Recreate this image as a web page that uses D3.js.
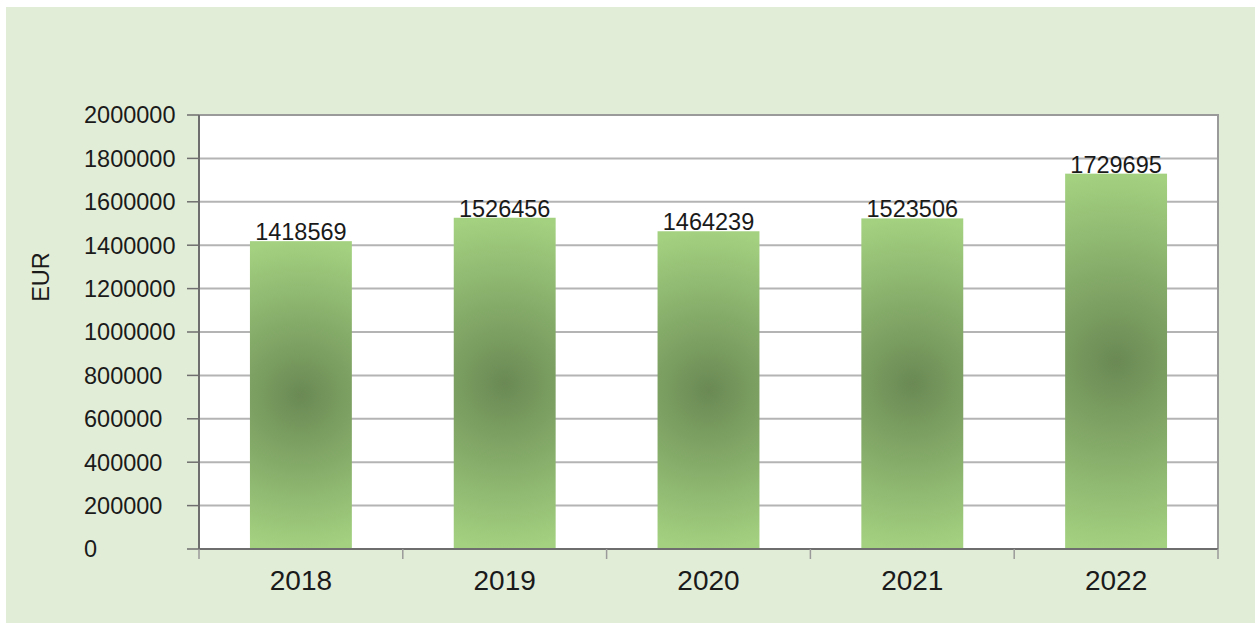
<!DOCTYPE html>
<html>
<head>
<meta charset="utf-8">
<script src="https://cdn.jsdelivr.net/npm/d3@7"></script>
<style>
  html, body { margin: 0; padding: 0; background: #ffffff; }
  svg text { font-family: "Liberation Sans", Arial, sans-serif; fill: #1a1a1a; }
</style>
</head>
<body>
<div class="chart"></div>
<script>
const years = ["2018", "2019", "2020", "2021", "2022"]
const amounts = [1418569, 1526456, 1464239, 1523506, 1729695]
const yTicks = [0, 200000, 400000, 600000, 800000, 1000000, 1200000, 1400000, 1600000, 1800000, 2000000]
const yLabel = "EUR"

const width = 1255
const height = 623
const margin = { top: 115, right: 37, bottom: 74, left: 199 }
const graphWidth = width - margin.left - margin.right
const graphHeight = height - margin.top - margin.bottom

const svg = d3.select(".chart").append("svg")
  .attr("width", width)
  .attr("height", height)

// light green panel, leaves a thin white strip top/left
svg.append("rect")
  .attr("x", 6).attr("y", 7)
  .attr("width", width - 6).attr("height", height - 7)
  .attr("fill", "#e2edd8")

const defs = svg.append("defs")

const graph = svg.append("g").attr("transform", `translate(${margin.left}, ${margin.top})`)

const xScale = d3.scaleBand().domain(years).range([0, graphWidth]).paddingInner(0.5).paddingOuter(0.25)
const yScale = d3.scaleLinear().domain([0, 2000000]).range([graphHeight, 0])

graph.append("rect")
  .attr("width", graphWidth).attr("height", graphHeight)
  .attr("fill", "#ffffff")

// gridlines
graph.selectAll(".grid")
  .data(yTicks.slice(1, -1))
  .enter().append("line")
  .attr("class", "grid")
  .attr("x1", 0).attr("x2", graphWidth)
  .attr("y1", d => yScale(d)).attr("y2", d => yScale(d))
  .attr("stroke", "#b4b4b4")
  .attr("stroke-width", 2)

// one radial gradient per bar, circle sized to half the bar height
amounts.forEach((v, i) => {
  const x = xScale(years[i]) + xScale.bandwidth() / 2
  const top = yScale(v)
  const cy = (top + graphHeight) / 2
  const g = defs.append("radialGradient")
    .attr("id", `barGrad${i}`)
    .attr("gradientUnits", "userSpaceOnUse")
    .attr("cx", x).attr("cy", cy).attr("r", (graphHeight - top) / 2)
  g.append("stop").attr("offset", "0%").attr("stop-color", "#6a8954")
  g.append("stop").attr("offset", "100%").attr("stop-color", "#a3d180")
})

graph.selectAll(".bar")
  .data(amounts)
  .enter().append("rect")
  .attr("class", "bar")
  .attr("x", (d, i) => xScale(years[i]))
  .attr("y", d => yScale(d))
  .attr("width", xScale.bandwidth())
  .attr("height", d => graphHeight - yScale(d))
  .attr("fill", (d, i) => `url(#barGrad${i})`)

// plot border: top/right lighter, left/bottom axis darker
graph.append("path")
  .attr("d", `M0,0H${graphWidth}V${graphHeight}`)
  .attr("fill", "none").attr("stroke", "#9a9a9a").attr("stroke-width", 2)
graph.append("path")
  .attr("d", `M0,0V${graphHeight}H${graphWidth}`)
  .attr("fill", "none").attr("stroke", "#6e6e6e").attr("stroke-width", 2)

// y ticks and labels (labels are left aligned in the original)
graph.selectAll(".ytick")
  .data(yTicks)
  .enter().append("line")
  .attr("x1", -12).attr("x2", 0)
  .attr("y1", d => yScale(d)).attr("y2", d => yScale(d))
  .attr("stroke", "#6e6e6e").attr("stroke-width", 1.5)

svg.selectAll(".ylab")
  .data(yTicks)
  .enter().append("text")
  .attr("x", 84)
  .attr("y", d => margin.top + yScale(d))
  .attr("dy", "0.36em")
  .attr("font-size", 23.5)
  .text(d => d)

// x ticks on category boundaries
const step = xScale.step()
graph.selectAll(".xtick")
  .data(d3.range(years.length + 1))
  .enter().append("line")
  .attr("x1", i => i * step).attr("x2", i => i * step)
  .attr("y1", graphHeight).attr("y2", graphHeight + 10)
  .attr("stroke", "#9a9a9a").attr("stroke-width", 1.5)

graph.selectAll(".xlab")
  .data(years)
  .enter().append("text")
  .attr("x", d => xScale(d) + xScale.bandwidth() / 2)
  .attr("y", graphHeight + 41)
  .attr("text-anchor", "middle")
  .attr("font-size", 28)
  .text(d => d)

// value labels
graph.selectAll(".vlab")
  .data(amounts)
  .enter().append("text")
  .attr("x", (d, i) => xScale(years[i]) + xScale.bandwidth() / 2)
  .attr("y", d => yScale(d) - 1)
  .attr("text-anchor", "middle")
  .attr("font-size", 23.5)
  .text(d => d)

svg.append("text")
  .attr("transform", "translate(41, 277) rotate(-90)")
  .attr("text-anchor", "middle")
  .attr("dy", "0.36em")
  .attr("font-size", 23.5)
  .text(yLabel)
</script>
</body>
</html>
